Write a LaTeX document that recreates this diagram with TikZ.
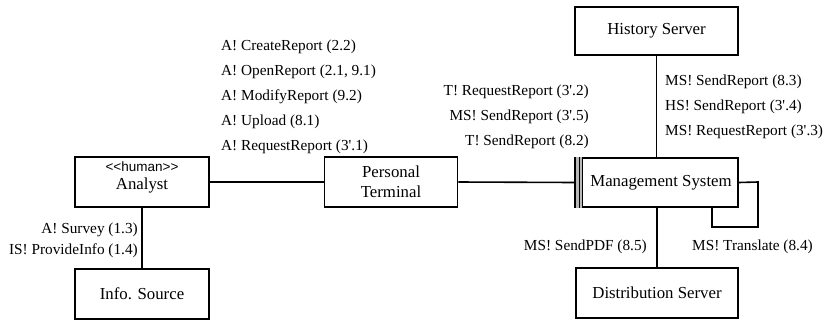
\documentclass[tikz,border=0pt]{standalone}
\usepackage{fontspec}
\setmainfont{Liberation Serif}[Ligatures=TeXOff]
\newfontfamily\stereofont{Liberation Sans}[Ligatures=TeXOff]
\begin{document}
\begin{tikzpicture}[x=1pt,y=-1pt,
  box/.style={draw,line width=1.6pt,inner sep=0pt,align=center,
    font=\fontsize{16.8}{20}\selectfont},
  link/.style={line width=1.6pt},
  msg/.style={inner sep=0pt,font=\fontsize{15.3}{18}\selectfont},
  msgl/.style={msg,anchor=west},
  msgr/.style={msg,anchor=east}]
\useasboundingbox (0,0) rectangle (827,322);

% actors and systems
\node[box,minimum width=134pt,minimum height=50pt] (analyst) at (142,182) {};
\node[inner sep=0pt,font=\stereofont\fontsize{13.5}{14}\selectfont] (stereo) at (142,166.5) {<<human>>};
\node[inner sep=0pt,font=\fontsize{16.8}{21}\selectfont] (analystname) at (142,185) {Analyst};
\node[box,minimum width=134pt,minimum height=50pt] (info) at (142,294) {Info. Source};
\node[box,minimum width=133pt,minimum height=50pt] (terminal) at (391,182) {Personal\\Terminal};
\node[box,minimum width=162pt,minimum height=49pt] (ms) at (657,182.5) {\hspace*{8pt}Management System};
\node[box,minimum width=163pt,minimum height=48pt] (history) at (656.5,31) {History Server};
\node[box,minimum width=162pt,minimum height=50pt] (dist) at (657,293) {Distribution Server};

% active-class bars on the left edge of the management system
\fill[gray!55] ([xshift=0.8pt]ms.north west) rectangle ([xshift=7.5pt]ms.south west);
\draw[line width=1pt] ([xshift=4pt]ms.north west) -- ([xshift=4pt]ms.south west);
\draw[line width=1pt] ([xshift=7.5pt]ms.north west) -- ([xshift=7.5pt]ms.south west);
\draw[line width=1.6pt] (ms.north west) -- (ms.south west);

% links
\draw[link] (analyst.east) -- (terminal.west);
\draw[link] (terminal.east) -- (ms.west);
\draw[link] (analyst.south) -- (info.north);
\draw[link] (history.south) -- (history.south |- ms.north);
\draw[link] (dist.north) -- (dist.north |- ms.south);
\coordinate (loopa) at (758,182);
\coordinate (loopb) at (758,227);
\coordinate (loopc) at (712,227);
\draw[link] (ms.east) -- (loopa) -- (loopb) -- (loopc) -- (loopc |- ms.south);

% messages between analyst and terminal
\node[msgl] (m1) at (221,47) {A! CreateReport (2.2)};
\node[msgl] (m2) at (221,72) {A! OpenReport (2.1, 9.1)};
\node[msgl] (m3) at (221,97) {A! ModifyReport (9.2)};
\node[msgl] (m4) at (221,122) {A! Upload (8.1)};
\node[msgl] (m5) at (221,147) {A! RequestReport (3'.1)};

% messages between terminal and management system
\node[msgr] (t1) at (589,92) {T! RequestReport (3'.2)};
\node[msgr] (t2) at (589,117) {MS! SendReport (3'.5)};
\node[msgr] (t3) at (589,142) {T! SendReport (8.2)};

% messages between management system and history server
\node[msgl] (h1) at (665,82) {MS! SendReport (8.3)};
\node[msgl] (h2) at (665,107) {HS! SendReport (3'.4)};
\node[msgl] (h3) at (665,132) {MS! RequestReport (3'.3)};

% messages between analyst and information source
\node[msgr] (s1) at (138,230) {A! Survey (1.3)};
\node[msgr] (s2) at (138,250.5) {IS! ProvideInfo (1.4)};

% messages towards distribution and self-translation
\node[msgr] (d1) at (647,247) {MS! SendPDF (8.5)};
\node[msgl] (d2) at (692,247) {MS! Translate (8.4)};
\end{tikzpicture}
\end{document}
